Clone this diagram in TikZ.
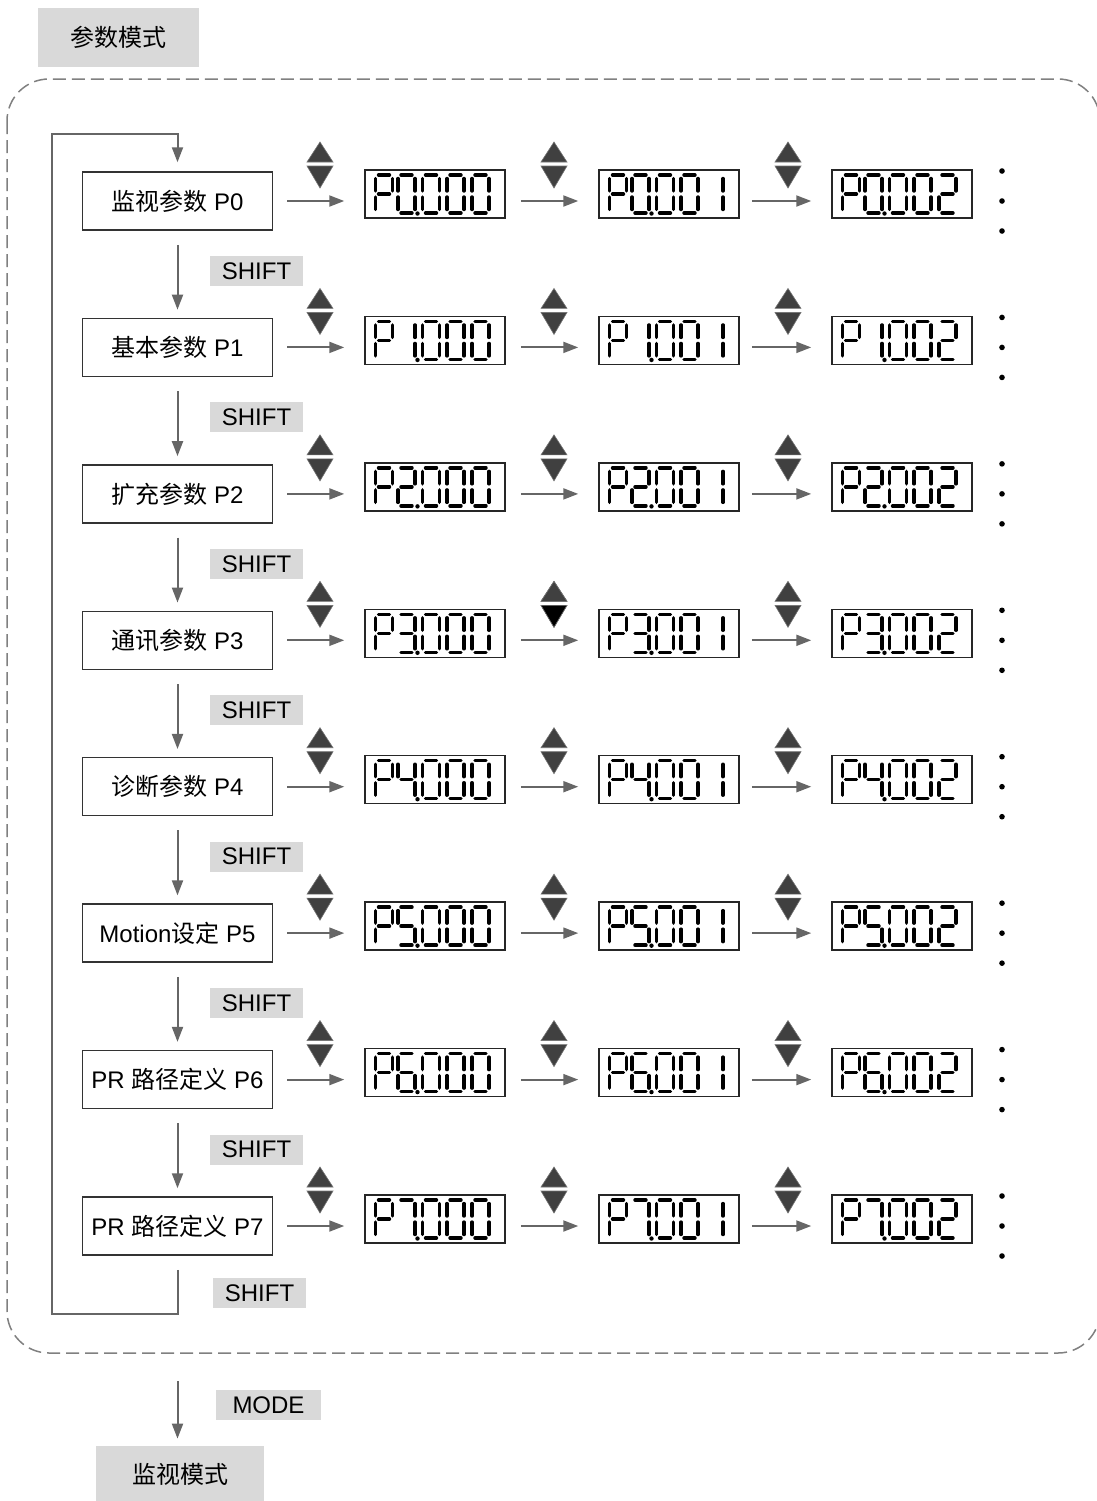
\documentclass[tikz,border=0pt]{standalone}
\usepackage{fontspec}
\setmainfont{Liberation Sans}
\newfontfamily\cjk{Noto Sans CJK SC}
\usetikzlibrary{arrows.meta}

% seven-segment pieces (cell centre at origin)
\newcommand{\lcdsega}{(-5.5,19) -- (5.5,19)}
\newcommand{\lcdsegb}{(8.5,15.5) -- (8.5,3)}
\newcommand{\lcdsegc}{(8.5,-3) -- (8.5,-15.5)}
\newcommand{\lcdsegd}{(-5.5,-19) -- (5.5,-19)}
\newcommand{\lcdsege}{(-8.5,-3) -- (-8.5,-15.5)}
\newcommand{\lcdsegf}{(-8.5,15.5) -- (-8.5,3)}
\newcommand{\lcdsegg}{(-5.5,0) -- (5.5,0)}
\expandafter\def\csname lcdsym0\endcsname{a,b,c,d,e,f}
\expandafter\def\csname lcdsym1\endcsname{b,c}
\expandafter\def\csname lcdsym2\endcsname{a,b,g,e,d}
\expandafter\def\csname lcdsym3\endcsname{a,b,g,c,d}
\expandafter\def\csname lcdsym4\endcsname{f,g,b,c}
\expandafter\def\csname lcdsym5\endcsname{a,f,g,c,d}
\expandafter\def\csname lcdsym6\endcsname{a,f,g,e,d,c}
\expandafter\def\csname lcdsym7\endcsname{a,b,c}
\expandafter\def\csname lcdsymP\endcsname{a,b,f,g,e}

\newcommand{\segdigit}[2]{%
  \begin{scope}[shift={(#1,0)}]
    \expandafter\let\expandafter\segset\csname lcdsym#2\endcsname
    \foreach \s in \segset {%
      \expandafter\let\expandafter\segpath\csname lcdseg\s\endcsname
      \draw[segline] \segpath;
    }
  \end{scope}}

\newcommand{\lcdshow}[3]{%
  \begin{scope}[shift={(#1.center)}]
    \segdigit{-51}{P}
    \segdigit{-28.5}{#2}
    \fill (-17.5,-19.5) circle (2.2);
    \segdigit{-4}{0}
    \segdigit{20.5}{0}
    \segdigit{45.5}{#3}
  \end{scope}}

\begin{document}
\begin{tikzpicture}[
  x=0.5pt, y=0.5pt,
  every node/.style={font=\fontsize{12}{14}\selectfont},
  parbox/.style={
    rectangle, draw=black!80, line width=0.75pt,
    minimum width=95pt, minimum height=29pt, inner sep=0pt
  },
  lcd/.style={
    rectangle, draw=black!85, line width=0.75pt,
    minimum width=70pt, minimum height=24pt, inner sep=0pt
  },
  key/.style={
    rectangle, fill=black!15, inner sep=0pt,
    minimum width=46.5pt, minimum height=15pt
  },
  title/.style={
    rectangle, fill=black!15, inner sep=0pt,
    minimum width=80.5pt, minimum height=29.5pt
  },
  flow/.style={draw=black!60, line width=1pt, -{Triangle[length=7.5pt,width=5.5pt]}},
  segline/.style={line width=1.7pt, line cap=round},
  tri/.style={fill=black!75, draw=black!55, line width=0.3pt},
  frame/.style={draw=black!50, line width=0.75pt, dash pattern=on 6.5pt off 3pt, rounded corners=21pt},
  pics/updown/.style={code={
    \filldraw[tri] (-13,3) -- (13,3) -- (0,23) -- cycle;
    \filldraw[tri,#1] (-13,-1) -- (13,-1) -- (0,-23) -- cycle;
  }},
  pics/updown/.default={}
]
\useasboundingbox (0,0) rectangle (1097,-1501);

% -- Titel und Rahmen --
\node[title] (pmode) at (118.5,-37.5) {{\cjk 参数模式}};
\draw[frame] (7,-79) rectangle (1100,-1353);

% -- Parametergruppen --
\node[parbox] (b0) at (177.5,-201)    {{\cjk 监视参数} P0};
\node[parbox] (b1) at (177.5,-347.4)  {{\cjk 基本参数} P1};
\node[parbox] (b2) at (177.5,-493.9)  {{\cjk 扩充参数} P2};
\node[parbox] (b3) at (177.5,-640.3)  {{\cjk 通讯参数} P3};
\node[parbox] (b4) at (177.5,-786.7)  {{\cjk 诊断参数} P4};
\node[parbox] (b5) at (177.5,-933.1)  {Motion{\cjk 设定} P5};
\node[parbox] (b6) at (177.5,-1079.6) {PR {\cjk 路径定义} P6};
\node[parbox] (b7) at (177.5,-1226)   {PR {\cjk 路径定义} P7};

% -- Anzeigen je Zeile --
\foreach \r in {0,...,7} {
  \pgfmathsetmacro{\yy}{-201-146.43*\r}
  \node[lcd] (da\r) at (435,{\yy+7}) {};
  \node[lcd] (db\r) at (669,{\yy+7}) {};
  \node[lcd] (dc\r) at (902,{\yy+7}) {};
  \lcdshow{da\r}{\r}{0}
  \lcdshow{db\r}{\r}{1}
  \lcdshow{dc\r}{\r}{2}
  \pic at (320,{\yy+36}) {updown};
  \pic at (554,{\yy+36}) {updown};
  \pic at (788,{\yy+36}) {updown};
  \draw[flow, shorten <=7pt, shorten >=10pt] (b\r.east) -- (b\r.east -| da\r.west);
  \draw[flow, shorten <=7.5pt, shorten >=10pt] (da\r.east |- b\r.east) -- (db\r.west |- b\r.east);
  \draw[flow, shorten <=6pt, shorten >=10pt] (db\r.east |- b\r.east) -- (dc\r.west |- b\r.east);
  \fill (1002,{\yy+30}) circle (2.8);
  \fill (1002,\yy) circle (2.8);
  \fill (1002,{\yy-30}) circle (2.8);
}
\pic at (554,-604.3) {updown={fill=black}};

% -- SHIFT zwischen den Gruppen --
\node[key] (s0) at (256.5,-271)    {SHIFT};
\node[key] (s1) at (256.5,-417.4)  {SHIFT};
\node[key] (s2) at (256.5,-563.9)  {SHIFT};
\node[key] (s3) at (256.5,-710.3)  {SHIFT};
\node[key] (s4) at (256.5,-856.7)  {SHIFT};
\node[key] (s5) at (256.5,-1003.1) {SHIFT};
\node[key] (s6) at (256.5,-1149.6) {SHIFT};
\node[key] (s7) at (259.5,-1293)   {SHIFT};

\draw[flow, shorten <=7pt, shorten >=4pt] (b0) -- (b1);
\draw[flow, shorten <=7pt, shorten >=4pt] (b1) -- (b2);
\draw[flow, shorten <=7pt, shorten >=4pt] (b2) -- (b3);
\draw[flow, shorten <=7pt, shorten >=4pt] (b3) -- (b4);
\draw[flow, shorten <=7pt, shorten >=4pt] (b4) -- (b5);
\draw[flow, shorten <=7pt, shorten >=4pt] (b5) -- (b6);
\draw[flow, shorten <=7pt, shorten >=4pt] (b6) -- (b7);

% -- Ruecksprung P7 -> P0 --
\coordinate (loopbl) at (52,-1314);
\coordinate (looptl) at (52,-134);
\draw[flow, shorten >=4.5pt] ([yshift=-7pt]b7.south) |- (loopbl) -- (looptl) -| (b0.north);

% -- MODE --
\node[key, minimum width=52.5pt] (mode) at (268.5,-1405) {MODE};
\node[title, minimum width=84pt, minimum height=28pt] (mmode) at (180,-1474) {{\cjk 监视模式}};
\coordinate (modetop) at (177.5,-1381);
\draw[flow, shorten >=3.5pt] (modetop) -- (modetop |- mmode.north);

\end{tikzpicture}
\end{document}
